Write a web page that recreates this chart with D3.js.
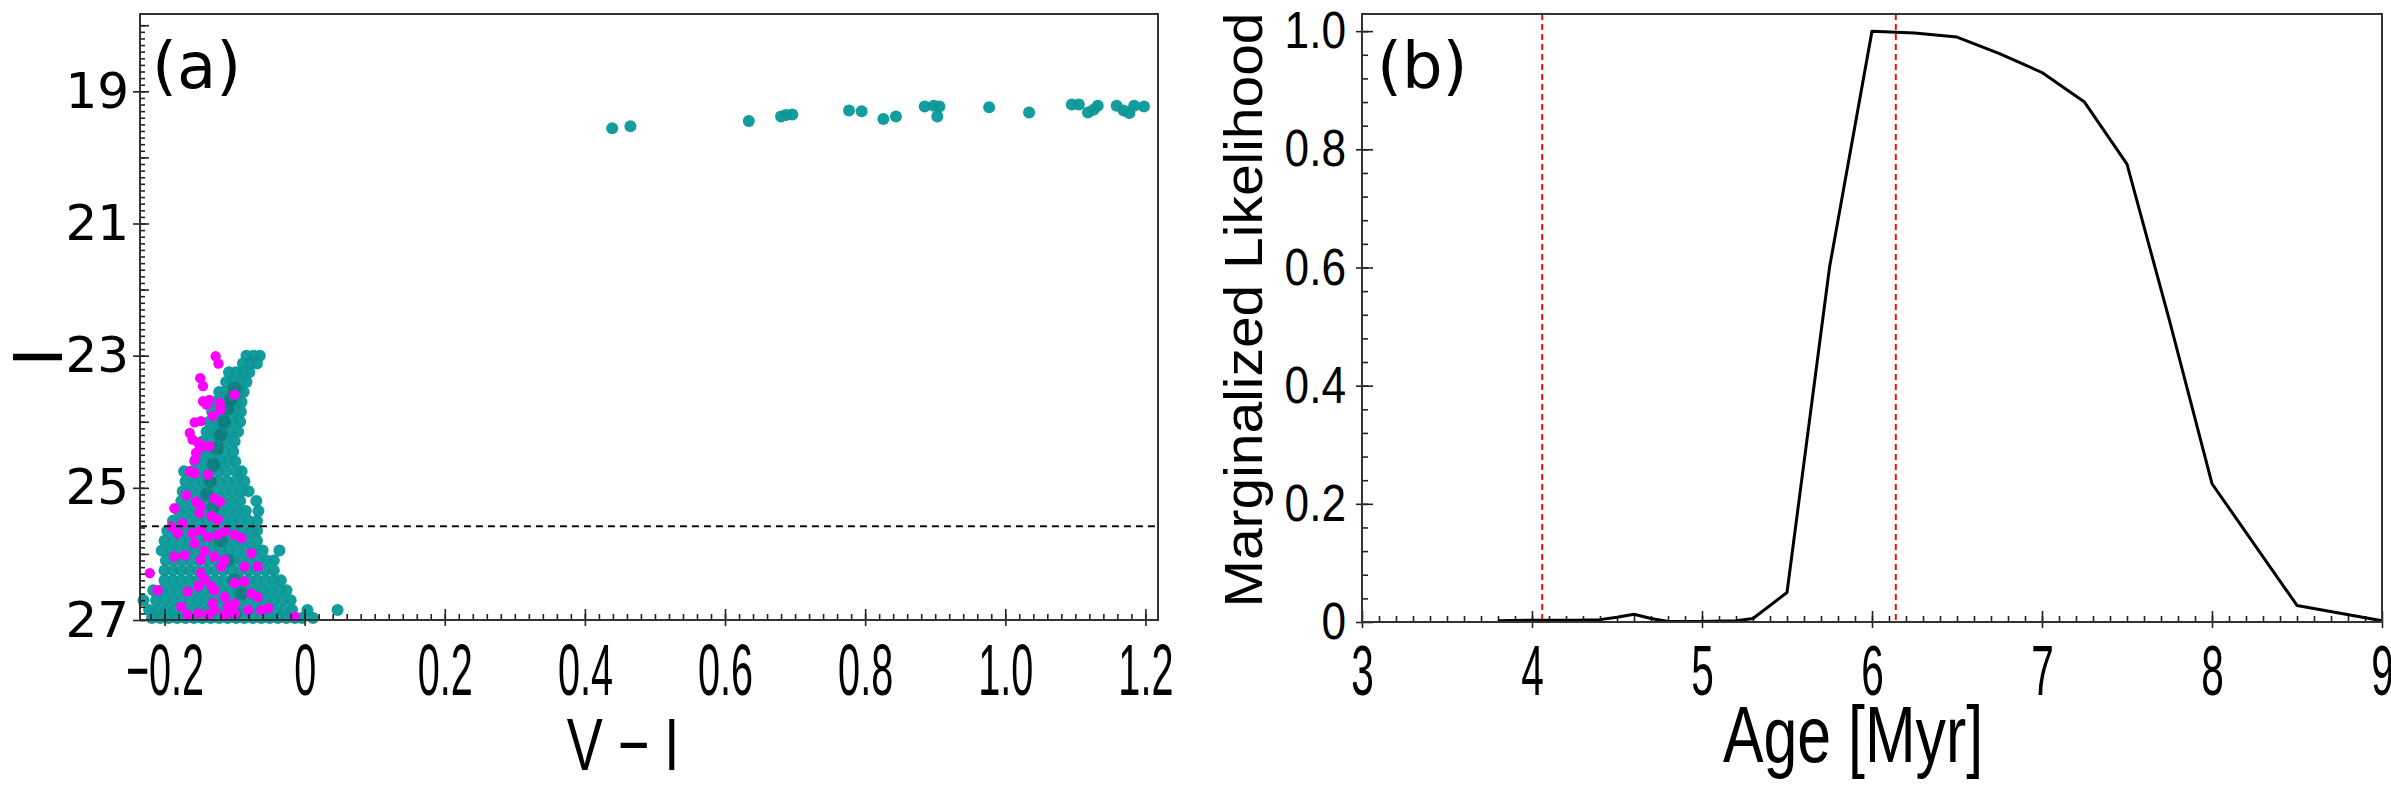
<!DOCTYPE html>
<html lang="en">
<head>
<meta charset="UTF-8" />
<script src="https://d3js.org/d3.v7.min.js"></script>
<title>CMD and age likelihood</title>
<style>
  body { margin: 0; background: #fff; }
  svg { display: block; }
  .frame { fill: none; stroke: #333; stroke-width: 2; }
  .tick line { stroke: #222; stroke-width: 1.6; }
  .domain { display: none; }
  .curve { fill: none; stroke: #000; stroke-width: 3; stroke-linejoin: round; }
  .cut { stroke: #111; stroke-width: 2; stroke-dasharray: 7 5; }
  .bound { stroke: #f01010; stroke-width: 2; stroke-dasharray: 6 4; }
</style>
</head>
<body>
<script>
var width = 2391, height = 786;

// ---- panel (a) data: colour-magnitude diagram ----
var xTicksA = [-0.2, 0, 0.2, 0.4, 0.6, 0.8, 1.0, 1.2];
var yTicksA = [19, 21, 23, 25, 27];
var cutMag = 25.58;

// red giants / bright stars at top right  [V-I, I]
var brightStars = [
  [0.439, 19.56], [0.465, 19.53], [0.634, 19.45], [0.68, 19.38], [0.687, 19.36],
  [0.696, 19.35], [0.777, 19.29], [0.795, 19.3], [0.826, 19.42], [0.844, 19.38],
  [0.885, 19.23], [0.898, 19.22], [0.906, 19.23], [0.903, 19.38], [0.977, 19.24],
  [1.034, 19.32], [1.095, 19.2], [1.105, 19.2], [1.118, 19.32], [1.126, 19.28],
  [1.132, 19.22], [1.159, 19.22], [1.169, 19.29], [1.177, 19.33], [1.184, 19.22],
  [1.198, 19.23]
];

// main-sequence stars, row by row: [I, [V-I ...]]
var tealRows = [
  [23.0, [-0.083, -0.073, -0.064]],
  [23.12, [-0.088, -0.078, -0.068]],
  [23.25, [-0.108, -0.098, -0.088, -0.079]],
  [23.4, [-0.112, -0.102, -0.092, -0.083]],
  [23.55, [-0.122, -0.112, -0.102, -0.092, -0.087]],
  [23.7, [-0.128, -0.116, -0.106, -0.096, -0.09]],
  [23.85, [-0.132, -0.12, -0.11, -0.1, -0.091]],
  [24.0, [-0.136, -0.124, -0.113, -0.102, -0.092]],
  [24.15, [-0.14, -0.128, -0.117, -0.106, -0.095]],
  [24.3, [-0.146, -0.134, -0.122, -0.111, -0.1]],
  [24.45, [-0.15, -0.138, -0.126, -0.114, -0.102]],
  [24.6, [-0.156, -0.144, -0.132, -0.12, -0.108, -0.099]],
  [24.75, [-0.172, -0.16, -0.148, -0.136, -0.124, -0.112, -0.098, -0.09]],
  [24.9, [-0.17, -0.158, -0.146, -0.134, -0.122, -0.11, -0.098, -0.086]],
  [25.05, [-0.174, -0.162, -0.15, -0.138, -0.126, -0.114, -0.102, -0.09, -0.08]],
  [25.2, [-0.176, -0.164, -0.152, -0.14, -0.128, -0.116, -0.104, -0.092, -0.069]],
  [25.35, [-0.18, -0.168, -0.156, -0.144, -0.132, -0.12, -0.108, -0.096, -0.084, -0.066]],
  [25.5, [-0.188, -0.176, -0.164, -0.152, -0.14, -0.128, -0.116, -0.104, -0.092, -0.08, -0.068]],
  [25.65, [-0.196, -0.184, -0.172, -0.16, -0.148, -0.136, -0.124, -0.112, -0.1, -0.088, -0.076, -0.068]],
  [25.8, [-0.2, -0.188, -0.176, -0.164, -0.152, -0.14, -0.128, -0.116, -0.104, -0.092, -0.08, -0.068]],
  [25.95, [-0.204, -0.192, -0.18, -0.168, -0.156, -0.144, -0.132, -0.12, -0.108, -0.096, -0.084, -0.072, -0.06, -0.036]],
  [26.1, [-0.198, -0.186, -0.174, -0.162, -0.15, -0.138, -0.126, -0.114, -0.102, -0.09, -0.078, -0.066, -0.054, -0.044]],
  [26.25, [-0.2, -0.188, -0.176, -0.164, -0.152, -0.14, -0.128, -0.116, -0.104, -0.092, -0.08, -0.068, -0.056, -0.044]],
  [26.4, [-0.2, -0.188, -0.176, -0.164, -0.152, -0.14, -0.128, -0.116, -0.104, -0.092, -0.08, -0.068, -0.056, -0.044, -0.034]],
  [26.55, [-0.216, -0.204, -0.192, -0.18, -0.168, -0.156, -0.144, -0.132, -0.12, -0.108, -0.096, -0.084, -0.072, -0.06, -0.048, -0.036, -0.026]],
  [26.7, [-0.23, -0.212, -0.2, -0.188, -0.176, -0.164, -0.152, -0.14, -0.128, -0.116, -0.104, -0.092, -0.08, -0.068, -0.056, -0.044, -0.032, -0.02]],
  [26.85, [-0.222, -0.21, -0.198, -0.186, -0.174, -0.162, -0.15, -0.138, -0.126, -0.114, -0.102, -0.09, -0.078, -0.066, -0.054, -0.042, -0.03, -0.018, 0.004, 0.047]],
  [26.97, [-0.218, -0.206, -0.194, -0.182, -0.17, -0.158, -0.146, -0.134, -0.122, -0.11, -0.098, -0.086, -0.074, -0.062, -0.05, -0.038, -0.026, -0.014, -0.004, 0.012]]
];

// extra stars along the densest ridge of the sequence
var tealDense = [
  [-0.1, 23.5], [-0.105, 23.65], [-0.11, 23.8], [-0.115, 24.0], [-0.12, 24.2],
  [-0.125, 24.4], [-0.13, 24.65], [-0.135, 24.9], [-0.14, 25.1], [-0.13, 25.3],
  [-0.12, 25.8], [-0.11, 26.1], [-0.1, 26.4], [-0.09, 26.6], [-0.1, 26.9]
];

// magenta-flagged stars  [V-I, I]
var magentaStars = [
  [-0.127, 23.01], [-0.123, 23.12], [-0.149, 23.34], [-0.145, 23.46], [-0.1, 23.59],
  [-0.145, 23.69], [-0.136, 23.67], [-0.14, 23.74], [-0.121, 23.72], [-0.12, 23.82],
  [-0.131, 23.91], [-0.157, 24.01], [-0.148, 23.99], [-0.164, 24.17], [-0.16, 24.27],
  [-0.152, 24.32], [-0.145, 24.37], [-0.136, 24.37], [-0.155, 24.47], [-0.157, 24.58],
  [-0.164, 24.75], [-0.157, 24.78], [-0.138, 24.8],
  [-0.169, 25.11], [-0.155, 25.21], [-0.148, 25.28], [-0.15, 25.38], [-0.129, 25.16],
  [-0.121, 25.21], [-0.186, 25.31], [-0.133, 25.43], [-0.124, 25.48], [-0.174, 25.54],
  [-0.19, 25.59], [-0.181, 25.69], [-0.16, 25.69], [-0.148, 25.64], [-0.138, 25.74],
  [-0.124, 25.71], [-0.114, 25.66], [-0.1, 25.71], [-0.09, 25.76], [-0.157, 25.84],
  [-0.143, 25.96], [-0.129, 26.04], [-0.114, 26.09], [-0.076, 25.99], [-0.186, 26.04],
  [-0.171, 26.02], [-0.148, 26.09], [-0.119, 26.19], [-0.086, 26.19], [-0.067, 26.19],
  [-0.221, 26.29], [-0.148, 26.29], [-0.143, 26.39], [-0.1, 26.44], [-0.086, 26.42],
  [-0.129, 26.55], [-0.114, 26.65], [-0.167, 26.57], [-0.21, 26.55], [-0.152, 26.49],
  [-0.133, 26.49], [-0.176, 26.8], [-0.167, 26.92], [-0.152, 26.9], [-0.131, 26.75],
  [-0.129, 26.85], [-0.11, 26.8], [-0.1, 26.75], [-0.076, 26.6], [-0.067, 26.65],
  [-0.062, 26.85], [-0.052, 26.82], [-0.081, 26.85], [-0.114, 26.92], [-0.1, 26.9],
  [-0.014, 26.95], [-0.138, 26.92]
];

// ---- panel (b) data: marginalized likelihood vs age ----
var ageTicks = [3, 4, 5, 6, 7, 8, 9];
var likeTicks = [0, 0.2, 0.4, 0.6, 0.8, 1.0];
var ages = [3.8, 4.0, 4.25, 4.4, 4.5, 4.6, 4.7, 4.8, 5.0, 5.2, 5.3, 5.5, 5.75, 6.0,
            6.25, 6.5, 6.75, 7.0, 7.25, 7.5, 7.75, 8.0, 8.5, 9.0];
var likelihood = [0.002, 0.003, 0.003, 0.004, 0.008, 0.013, 0.006, 0.001, 0.001, 0.002,
                  0.006, 0.05, 0.6, 1.0, 0.997, 0.99, 0.962, 0.93, 0.88, 0.775, 0.51,
                  0.234, 0.028, 0.002];
var ageBounds = [4.06, 6.14];

var svg = d3.select("body").append("svg")
  .attr("width", width).attr("height", height);

// squeeze tick labels horizontally (the original uses a narrow sans font)
function squeeze(sel, sx) {
  sel.each(function () {
    var t = d3.select(this);
    var x = +t.attr("x") || 0;
    t.attr("x", x / sx).attr("transform", "scale(" + sx + ",1)");
  });
}

function tickRow(g, axis, font, size) {
  g.call(axis);
  g.select(".domain").remove();
  if (font) g.attr("font-family", font).attr("font-size", size);
  g.selectAll("text").attr("fill", "#000");
  return g;
}

var narrow = "Liberation Sans, Arial, sans-serif";
var wide = "DejaVu Sans, sans-serif";

// ================= panel (a) =================
var xA = d3.scaleLinear().domain([-0.235, 1.218]).range([140, 1158]);
var yA = d3.scaleLinear().domain([17.83, 27]).range([14, 620]);
var a = svg.append("g");

var tealStars = [];
tealRows.forEach(function (r) {
  r[1].forEach(function (v) { tealStars.push([v, r[0]]); });
});
tealStars = tealStars.concat(tealDense, brightStars);

function dots(g, data, r, fill, op) {
  g.append("g").selectAll("circle").data(data).join("circle")
    .attr("cx", function (d) { return xA(d[0]); })
    .attr("cy", function (d) { return yA(d[1]); })
    .attr("r", r).attr("fill", fill).attr("fill-opacity", op);
}
dots(a, tealStars, 6, "#14a6a6", 1);
dots(a, tealStars, 6, "#063c3c", 0.08);
dots(a, tealDense, 7, "#0b5555", 0.3);
dots(a, magentaStars, 5.2, "#ff00ff", 1);

a.append("line").attr("class", "cut")
  .attr("x1", xA.range()[0]).attr("x2", xA.range()[1])
  .attr("y1", yA(cutMag)).attr("y2", yA(cutMag));

// x ticks
tickRow(a.append("g").attr("transform", "translate(0,620)"),
  d3.axisBottom(xA).tickValues(d3.range(-0.22, 1.21, 0.02)).tickSize(-6).tickSizeOuter(0).tickFormat(""));
tickRow(a.append("g").attr("transform", "translate(0,620)"),
  d3.axisBottom(xA).tickValues(xTicksA).tickSize(-11).tickSizeOuter(0).tickFormat(""));
var gxA = tickRow(a.append("g").attr("transform", "translate(0,620)"),
  d3.axisBottom(xA).tickValues(xTicksA).tickSize(6).tickSizeOuter(0)
    .tickFormat(function (d) { return d === 0 ? "0" : d3.format(".1f")(d).replace("-", "\u2212"); }),
  narrow, 72);
gxA.selectAll("text").attr("y", 75).attr("dy", null);
squeeze(gxA.selectAll("text"), 0.55);

// y ticks
tickRow(a.append("g").attr("transform", "translate(140,0)"),
  d3.axisLeft(yA).tickValues(d3.range(18, 27.01, 0.1)).tickSize(-5).tickSizeOuter(0).tickFormat(""));
tickRow(a.append("g").attr("transform", "translate(140,0)"),
  d3.axisLeft(yA).tickValues(d3.range(18, 27.01, 1)).tickSize(-9).tickSizeOuter(0).tickFormat(""));
tickRow(a.append("g").attr("transform", "translate(140,0)"),
  d3.axisLeft(yA).tickValues(yTicksA).tickSize(7).tickPadding(4).tickSizeOuter(0).tickFormat(d3.format("d")),
  wide, 50);

a.append("rect").attr("class", "frame")
  .attr("x", 140).attr("y", 14).attr("width", 1018).attr("height", 606);

a.append("text").attr("x", 152).attr("y", 88)
  .attr("font-family", wide).attr("font-size", 64).text("(a)");
a.append("text").attr("x", 623).attr("y", 770).attr("text-anchor", "middle")
  .attr("font-family", narrow).attr("font-size", 74)
  .attr("transform", "translate(623,0) scale(0.73,1) translate(-623,0)")
  .text("V \u2212 I");
a.append("text").attr("transform", "translate(62,357) rotate(-90)")
  .attr("text-anchor", "middle")
  .attr("font-family", narrow).attr("font-size", 70).text("I");

// ================= panel (b) =================
var xB = d3.scaleLinear().domain([3, 9]).range([1362, 2382]);
var yB = d3.scaleLinear().domain([0, 1.029]).range([622, 14]);
var b = svg.append("g");

tickRow(b.append("g").attr("transform", "translate(0,622)"),
  d3.axisBottom(xB).tickValues(d3.range(3.1, 9, 0.1)).tickSize(-6).tickSizeOuter(0).tickFormat(""));
tickRow(b.append("g").attr("transform", "translate(0,622)"),
  d3.axisBottom(xB).tickValues(ageTicks).tickSize(-11).tickSizeOuter(0).tickFormat(""));
var gxB = tickRow(b.append("g").attr("transform", "translate(0,622)"),
  d3.axisBottom(xB).tickValues(ageTicks).tickSize(6).tickSizeOuter(0).tickFormat(d3.format("d")),
  narrow, 70);
gxB.selectAll("text").attr("y", 73).attr("dy", null);
squeeze(gxB.selectAll("text"), 0.58);

tickRow(b.append("g").attr("transform", "translate(1362,0)"),
  d3.axisLeft(yB).tickValues(d3.range(0.04, 1.01, 0.04)).tickSize(-6).tickSizeOuter(0).tickFormat(""));
tickRow(b.append("g").attr("transform", "translate(1362,0)"),
  d3.axisLeft(yB).tickValues(likeTicks).tickSize(-11).tickSizeOuter(0).tickFormat(""));
var gyB = tickRow(b.append("g").attr("transform", "translate(1362,0)"),
  d3.axisLeft(yB).tickValues(likeTicks).tickSize(6).tickPadding(10).tickSizeOuter(0)
    .tickFormat(function (d) { return d === 0 ? "0" : d3.format(".1f")(d); }),
  narrow, 52);
squeeze(gyB.selectAll("text"), 0.85);

b.selectAll("line.bound").data(ageBounds).join("line").attr("class", "bound")
  .attr("x1", function (d) { return xB(d); }).attr("x2", function (d) { return xB(d); })
  .attr("y1", 14).attr("y2", 622);

var line = d3.line()
  .x(function (d, i) { return xB(ages[i]); })
  .y(function (d) { return yB(d); });
b.append("path").attr("class", "curve").attr("d", line(likelihood));

b.append("rect").attr("class", "frame")
  .attr("x", 1362).attr("y", 14).attr("width", 1020).attr("height", 608);

b.append("text").attr("x", 1377).attr("y", 88)
  .attr("font-family", wide).attr("font-size", 64).text("(b)");
b.append("text").attr("x", 1853).attr("y", 762).attr("text-anchor", "middle")
  .attr("font-family", narrow).attr("font-size", 80)
  .attr("transform", "translate(1853,0) scale(0.76,1) translate(-1853,0)")
  .text("Age [Myr]");
b.append("text").attr("transform", "translate(1262,310) rotate(-90)")
  .attr("text-anchor", "middle")
  .attr("font-family", narrow).attr("font-size", 54)
  .attr("textLength", 595).attr("lengthAdjust", "spacingAndGlyphs")
  .text("Marginalized Likelihood");
</script>
</body>
</html>
